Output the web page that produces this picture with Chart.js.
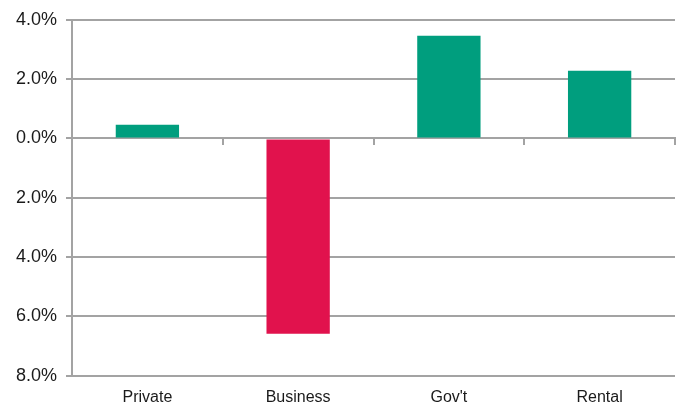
<!DOCTYPE html>
<html>
<head>
<meta charset="utf-8">
<script src="https://cdn.jsdelivr.net/npm/chart.js@4"></script>
<style>
  body { margin: 0; background: #fff; }
</style>
</head>
<body>
<canvas id="balanceChart" width="677" height="408"></canvas>
<script>
var categories = ['Private', 'Business', "Gov't", 'Rental'];
var balanceValues = [0.46, -6.58, 3.46, 2.28];
var yTicks = [-8, -6, -4, -2, 0, 2, 4];

var green = '#009E7E';
var red = '#E1124D';
var gridColor = '#A3A3A3';

document.addEventListener("DOMContentLoaded", function () {
    var ctx = document.getElementById('balanceChart').getContext('2d');
    var chart = new Chart(ctx, {
        type: 'bar',
        data: {
            labels: categories,
            datasets: [{
                data: balanceValues,
                backgroundColor: balanceValues.map(function (v) { return v >= 0 ? green : red; }),
                borderWidth: 0,
                categoryPercentage: 1,
                barPercentage: 0.42
            }]
        },
        options: {
            responsive: false,
            animation: false,
            // negative bottom padding: chart.js pads tick labels on both sides
            layout: { padding: { top: 16, right: 2, left: 7, bottom: -11 } },
            plugins: { legend: { display: false }, tooltip: { enabled: false } },
            scales: {
                x: {
                    position: 'bottom',
                    grid: { display: false, drawTicks: false },
                    border: { display: false },
                    ticks: {
                        color: '#1a1a1a',
                        padding: 12,
                        font: { family: '"Liberation Sans Narrow", "Arial Narrow", "Liberation Sans", sans-serif', size: 16 }
                    }
                },
                // second x axis only for the small tick marks on the zero line
                x2: {
                    position: { y: 0 },
                    labels: categories,
                    grid: { drawOnChartArea: false, color: gridColor, lineWidth: 2, tickLength: 6, offset: true },
                    border: { display: true, color: gridColor, width: 2 },
                    ticks: { display: false }
                },
                y: {
                    min: -8,
                    max: 4,
                    afterBuildTicks: function (axis) {
                        axis.ticks = yTicks.map(function (v) { return { value: v }; });
                    },
                    grid: { color: gridColor, lineWidth: 2, tickLength: 6 },
                    border: { display: true, color: gridColor, width: 2 },
                    ticks: {
                        color: '#1a1a1a',
                        padding: 9,
                        font: { family: '"Liberation Sans", Arial, sans-serif', size: 18 },
                        callback: function (v) { return Math.abs(v).toFixed(1) + '%'; }
                    }
                }
            }
        }
    });
});
</script>
</body>
</html>
